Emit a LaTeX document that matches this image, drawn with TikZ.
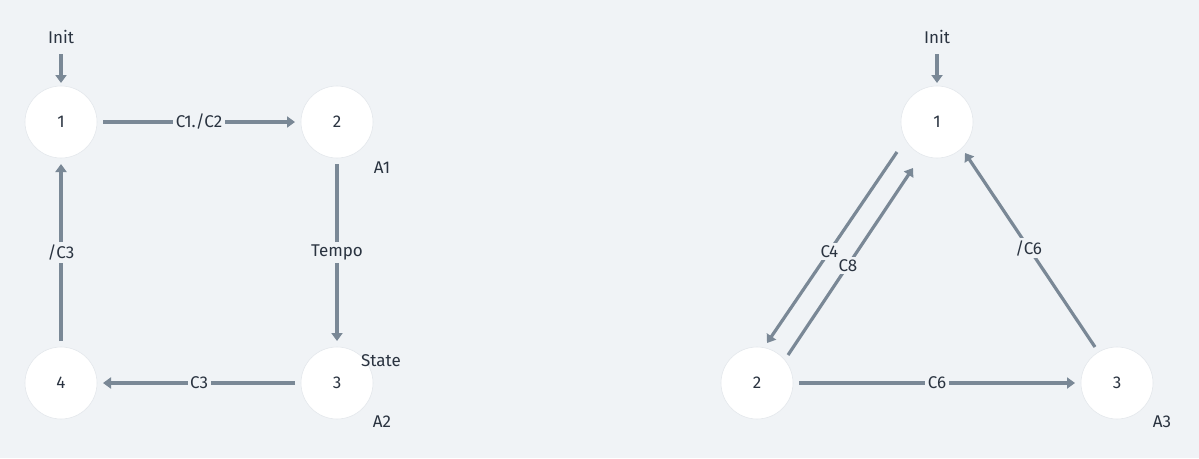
\documentclass[tikz,border=0pt]{standalone}
\usepackage{fontspec}
\setmainfont{Fira Sans}
\usetikzlibrary{arrows.meta}
\definecolor{bg}{HTML}{F0F3F6}
\definecolor{edge}{HTML}{7A8896}
\definecolor{txt}{HTML}{2A3340}
\definecolor{rim}{HTML}{E4E8EC}
\begin{document}
\begin{tikzpicture}[x=1pt,y=-1pt,
  state/.style={circle,fill=white,draw=rim,line width=0.6pt,minimum size=72pt,inner sep=0pt,outer sep=6pt,text=txt,font=\fontsize{17}{20}\selectfont},
  arr/.style={draw=edge,line width=3.2pt,-{Triangle[length=8pt,width=11pt]}},
  lbl/.style={fill=bg,text=txt,inner sep=2.5pt,font=\fontsize{17}{20}\selectfont},
  note/.style={text=txt,inner sep=0pt,font=\fontsize{17}{20}\selectfont}]
\fill[bg] (0,0) rectangle (1199,458);
\useasboundingbox (0,0) rectangle (1199,458);
% left automaton
\node[state] (a1) at (61,122) {1};
\node[state] (a2) at (337,122) {2};
\node[state] (a3) at (337,383) {3};
\node[state] (a4) at (61,383) {4};
\node[note] (ainit) at (61,37) {Init};
\coordinate (ainitt) at (61,54);
\draw[arr] (ainitt) -- ([yshift=-3pt]a1.north);
\draw[arr] (a1) -- node[lbl] {C1./C2} (a2);
\draw[arr] (a2) -- node[lbl] {Tempo} (a3);
\draw[arr] (a3) -- node[lbl] {C3} (a4);
\draw[arr] (a4) -- node[lbl] {/C3} (a1);
\node[note] (aA1) at (382,168) {A1};
\node[note] (astate) at (381,361) {State};
\node[note] (aA2) at (382,422) {A2};
% right automaton
\node[state] (b1) at (937,122) {1};
\node[state] (b2) at (757,383) {2};
\node[state] (b3) at (1117,383) {3};
\node[note] (binit) at (937,37) {Init};
\coordinate (binitt) at (937,54);
\draw[arr] (binitt) -- ([yshift=-3pt]b1.north);
\draw[arr] ([shift={(-40,30)}]b1.center) -- node[lbl,pos=0.52] {C4} ([shift={(10,-40)}]b2.center);
\draw[arr] ([shift={(31,-28)}]b2.center) -- node[lbl,pos=0.48] {C8} ([shift={(-24,46)}]b1.center);
\draw[arr] (b2) -- node[lbl] {C6} (b3);
\draw[arr] ([shift={(-22,-36)}]b3.center) -- node[lbl,pos=0.51] {/C6} ([shift={(28,31)}]b1.center);
\node[note] (bA3) at (1162,422) {A3};
\end{tikzpicture}
\end{document}
